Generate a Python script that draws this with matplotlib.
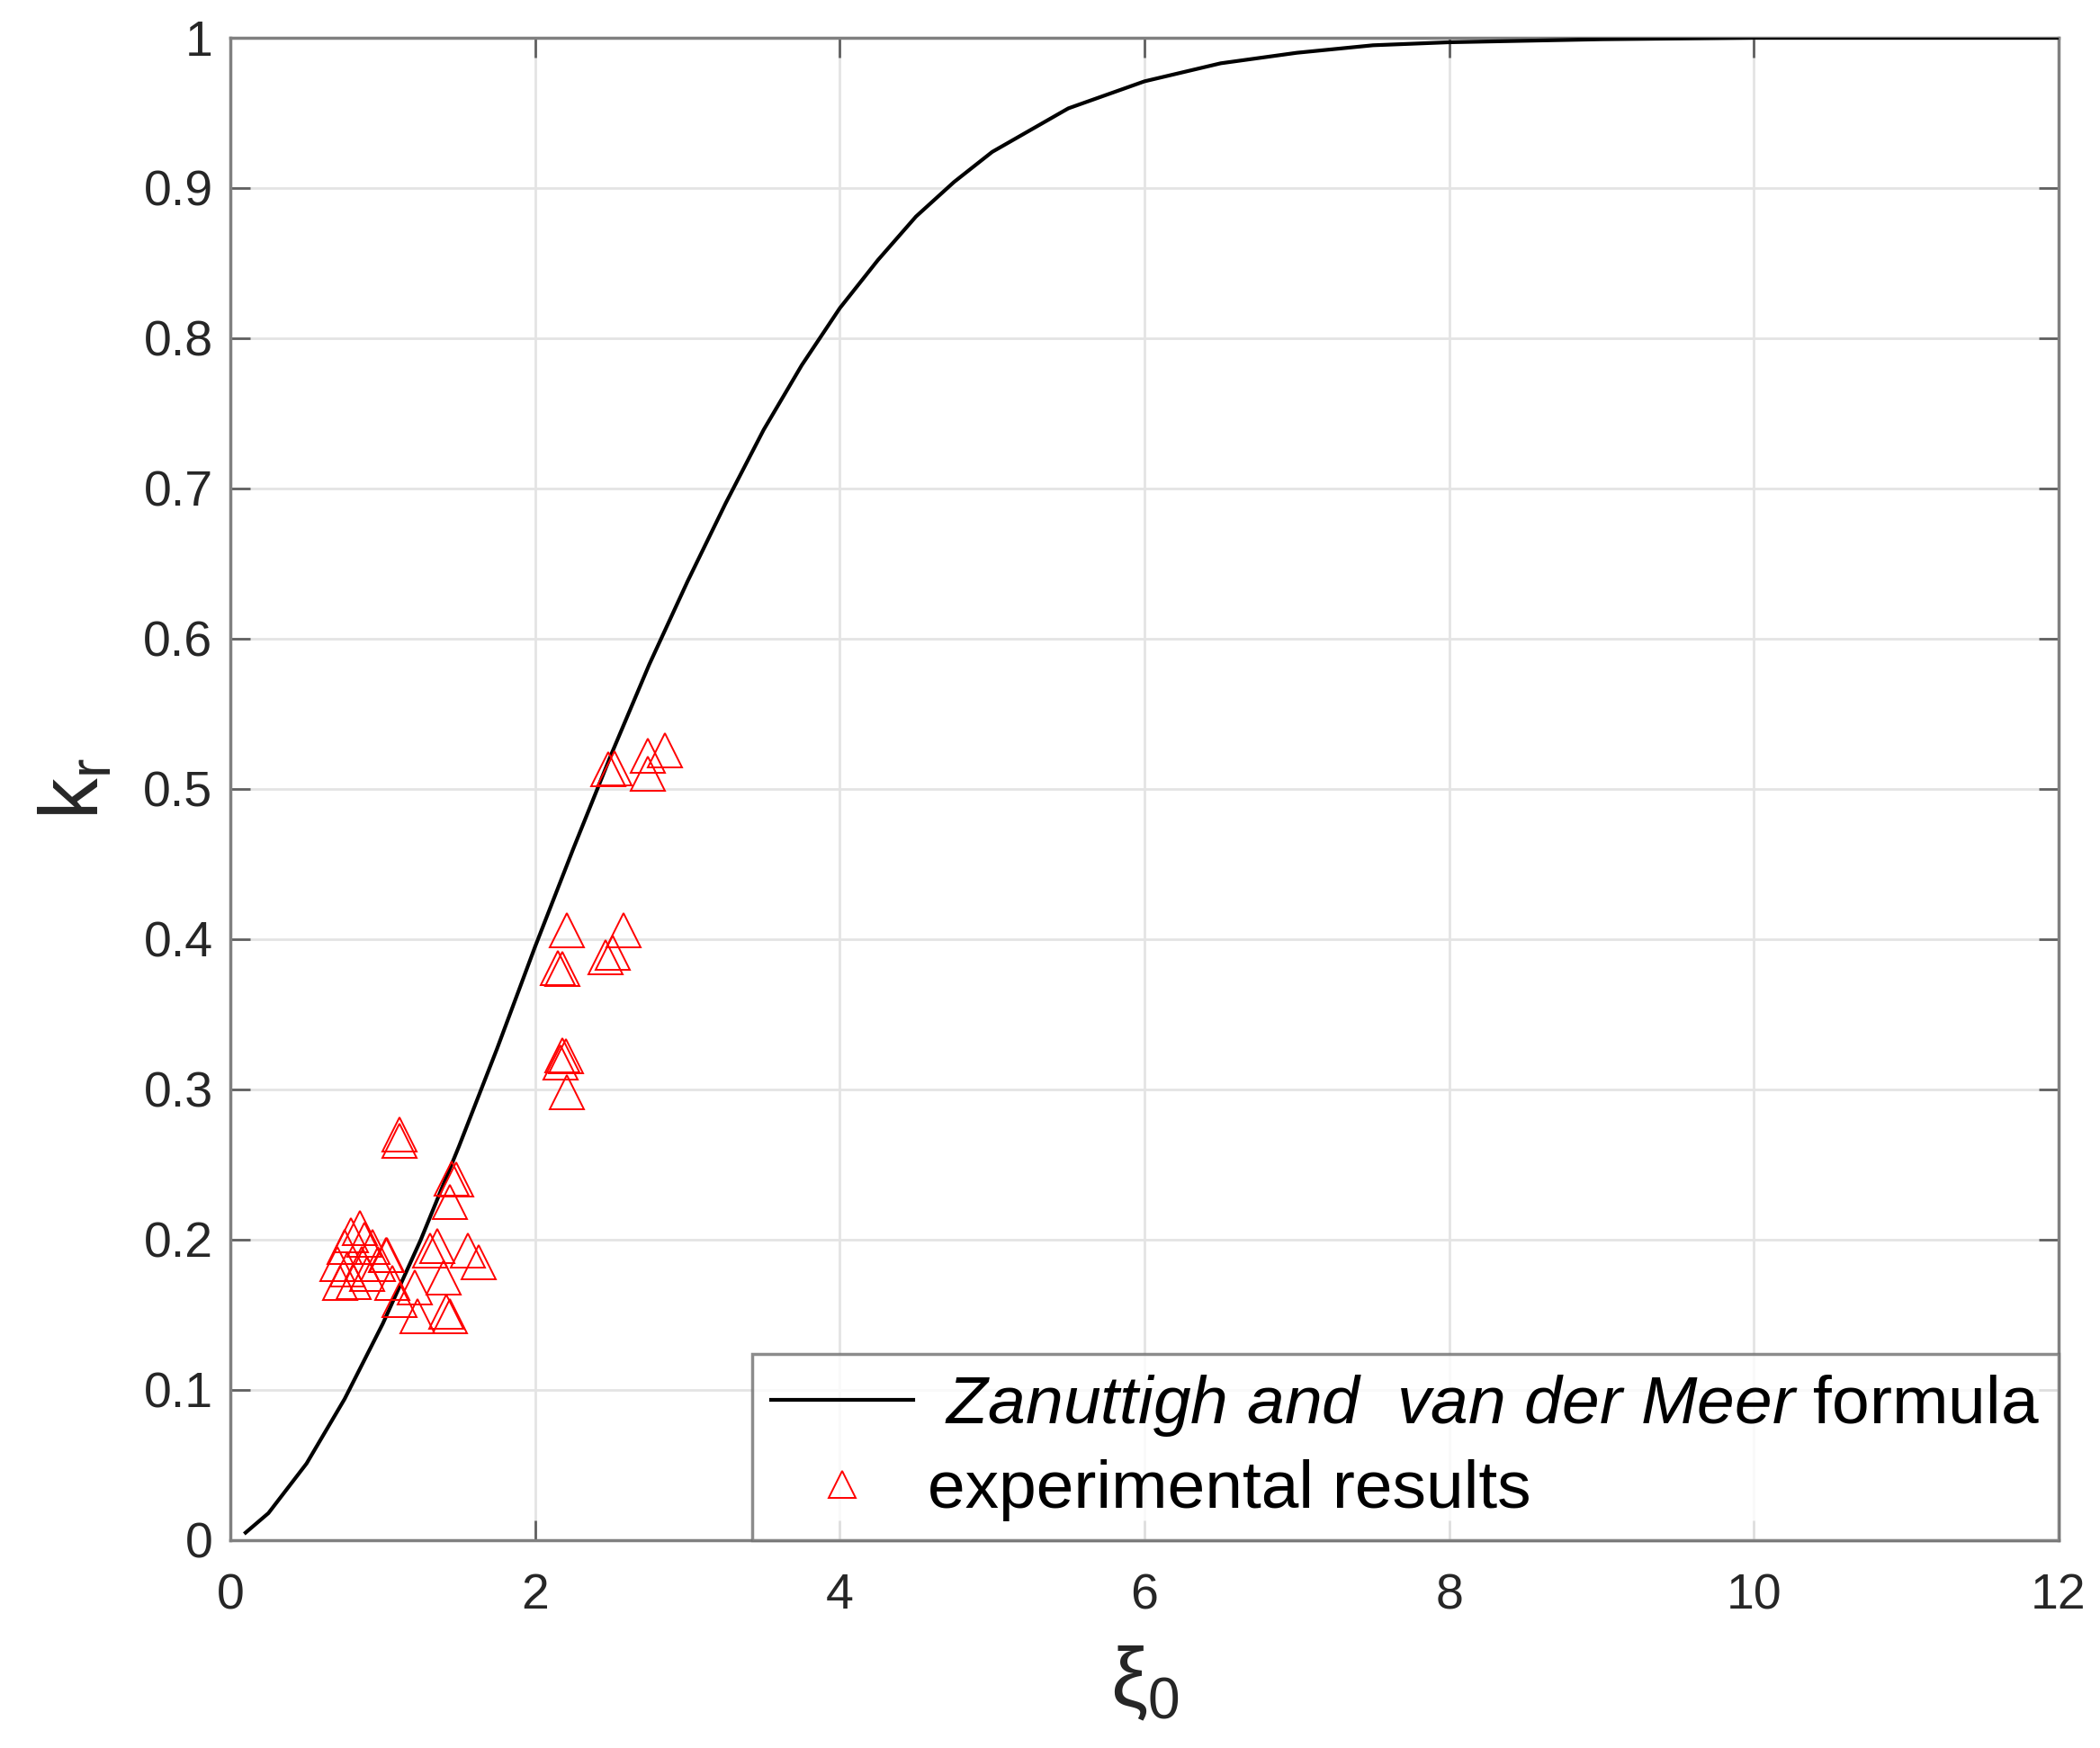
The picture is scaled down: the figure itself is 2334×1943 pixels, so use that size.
import matplotlib
matplotlib.use("Agg")
import matplotlib.pyplot as plt
from matplotlib.lines import Line2D

plt.rcParams['font.family'] = ['Liberation Sans', 'DejaVu Sans']
plt.rcParams['mathtext.fontset'] = 'custom'
plt.rcParams['mathtext.rm'] = 'Liberation Sans'
plt.rcParams['mathtext.it'] = 'Liberation Sans:italic'

# formula curve
curve_xi = [0.10, 0.25, 0.50, 0.75, 1.00, 1.25, 1.50, 1.75, 2.00, 2.25, 2.50, 2.75,
            3.00, 3.25, 3.50, 3.75, 4.00, 4.25, 4.50, 4.75, 5.00, 5.50, 6.00, 6.50,
            7.00, 7.50, 8.00, 9.00, 10.0, 12.0]
curve_kr = [0.005, 0.018, 0.051, 0.094, 0.144, 0.200, 0.262, 0.327, 0.395, 0.460,
            0.523, 0.583, 0.638, 0.690, 0.739, 0.782, 0.820, 0.852, 0.881, 0.904,
            0.924, 0.953, 0.971, 0.983, 0.990, 0.995, 0.997, 0.999, 1.000, 1.000]

# experimental results
exp_xi = [2.48, 2.52, 2.74, 2.85, 2.74,
          2.21, 2.58, 2.15, 2.18, 2.46, 2.51, 2.18, 2.20, 2.17, 2.21,
          1.11, 1.11, 1.45, 1.48, 1.44, 1.31, 1.36, 1.56, 1.63, 1.40, 1.21,
          1.11, 1.23, 1.42, 1.44, 1.06, 1.02,
          0.85, 0.79, 0.88, 0.93, 0.75, 0.70, 0.77, 0.86, 0.97, 0.72, 0.81,
          0.90, 1.03]
exp_kr = [0.513, 0.514, 0.522, 0.526, 0.510,
          0.406, 0.406, 0.381, 0.380, 0.388, 0.391, 0.323, 0.322, 0.318, 0.298,
          0.270, 0.266, 0.241, 0.240, 0.225, 0.193, 0.196, 0.193, 0.185, 0.175,
          0.168, 0.160, 0.149, 0.152, 0.149, 0.171, 0.190,
          0.208, 0.203, 0.200, 0.195, 0.195, 0.184, 0.180, 0.184, 0.184, 0.171,
          0.172, 0.177, 0.190]

fig = plt.figure(figsize=(23.34, 19.43), dpi=100)
ax = fig.add_axes([0.1097, 0.1189, 0.8706, 0.8595])

ax.plot(curve_xi, curve_kr, color='black', lw=3, zorder=3)
ax.plot(exp_xi, exp_kr, ls='none', marker='^', ms=27, mfc='none', mec='red',
        mew=1.4, zorder=4)

ax.set_xlim(0, 12)
ax.set_ylim(0, 1)
ax.set_xticks(range(0, 13, 2))
ax.set_yticks([i / 10 for i in range(11)])
ax.set_yticklabels(['0', '0.1', '0.2', '0.3', '0.4', '0.5', '0.6', '0.7', '0.8', '0.9', '1'])
ax.grid(True, color='#e4e4e4', lw=2)
ax.set_axisbelow(True)
ax.tick_params(direction='in', length=16, width=2, color='#606060', labelsize=40,
               labelcolor='#262626', top=True, right=True, pad=14)
ax.tick_params(axis='x', pad=26)
for s in ax.spines.values():
    s.set_color('#808080')
    s.set_linewidth(2.5)

ax.set_xlabel(r'$\mathregular{\xi_0}$', fontsize=66, color='#262626', labelpad=20)
ax.set_ylabel(r'$\mathregular{k_r}$', fontsize=66, color='#262626', labelpad=22)

handles = [Line2D([], [], color='black', lw=3),
           Line2D([], [], ls='none', marker='^', ms=22, mfc='none', mec='red', mew=1.4)]
labels = [r'$\mathit{\ Zanuttigh\ and\ \ van\ der\ Meer}$ formula', 'experimental results']
leg = ax.legend(handles, labels, loc='lower right', fontsize=54, frameon=True,
                fancybox=False, borderaxespad=0, handlelength=2.1, borderpad=0.28,
                labelspacing=0.3, handletextpad=0.22)
leg.get_frame().set_edgecolor('#707070')
leg.get_frame().set_linewidth(2.5)
for t in leg.get_texts():
    t.set_color('black')

fig.savefig('out.png', dpi=100)
